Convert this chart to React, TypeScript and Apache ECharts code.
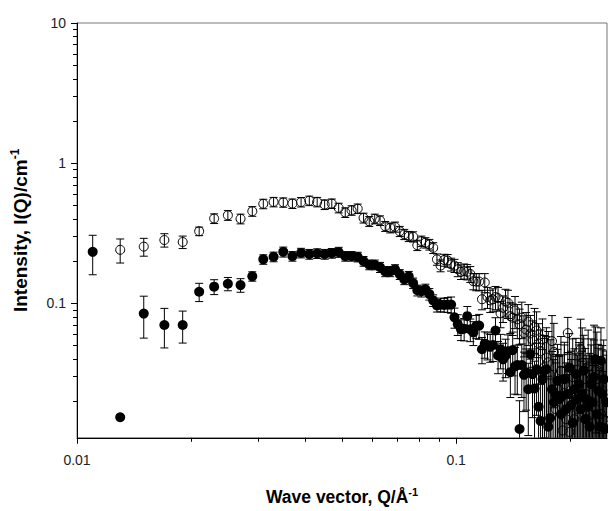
import React, { useEffect, useRef } from 'react';
import * as echarts from 'echarts';

// Wave vector Q (1/Å)
const qValues = [
  0.011, 0.013, 0.015, 0.017, 0.019, 0.021, 0.023, 0.025, 0.027, 0.029,
  0.031, 0.033, 0.035, 0.037, 0.039, 0.041, 0.043, 0.045, 0.047, 0.049,
  0.051, 0.053, 0.055, 0.057, 0.059, 0.061, 0.063, 0.065, 0.067, 0.069,
  0.071, 0.073, 0.075, 0.077, 0.079, 0.081, 0.083, 0.085, 0.087, 0.089,
  0.091, 0.093, 0.095, 0.097, 0.099, 0.101, 0.103, 0.105, 0.107, 0.109,
  0.111, 0.113, 0.115, 0.117, 0.119, 0.121, 0.123, 0.125, 0.127, 0.129,
  0.131, 0.133, 0.135, 0.137, 0.139, 0.141, 0.143, 0.145, 0.147, 0.149,
  0.151, 0.153, 0.155, 0.157, 0.159, 0.161, 0.163, 0.165, 0.167, 0.169,
  0.171, 0.173, 0.175, 0.177, 0.179, 0.181, 0.183, 0.185, 0.187, 0.189,
  0.191, 0.193, 0.195, 0.197, 0.199, 0.201, 0.203, 0.205, 0.207, 0.209,
  0.211, 0.213, 0.215, 0.217, 0.219, 0.221, 0.223, 0.225, 0.227, 0.229,
  0.231, 0.233, 0.235, 0.237, 0.239, 0.241, 0.243, 0.245, 0.247, 0.249,
];

// Open circles: intensity I(Q) (1/cm) and its error
const openIntensity = [
  null, 0.241, 0.254, 0.283, 0.274, 0.327, 0.403, 0.425, 0.401, 0.454,
  0.513, 0.529, 0.525, 0.515, 0.528, 0.540, 0.529, 0.507, 0.515, 0.480,
  0.445, 0.461, 0.474, 0.407, 0.385, 0.401, 0.390, 0.355, 0.346, 0.351,
  0.327, 0.311, 0.301, 0.299, 0.260, 0.278, 0.271, 0.263, 0.249, 0.206,
  0.186, 0.204, 0.202, 0.190, 0.186, 0.175, 0.168, 0.170, 0.168, 0.162,
  0.144, 0.143, 0.143, 0.107, 0.141, 0.111, 0.105, 0.107, 0.111, 0.109,
  0.085, 0.093, 0.103, 0.101, 0.081, 0.079, 0.089, 0.077, 0.071, 0.079,
  0.0615, 0.065, 0.074, 0.061, 0.055, 0.068, 0.064, 0.0516, 0.0456, 0.0554,
  0.035, 0.041, 0.038, 0.031, 0.0538, 0.045, 0.0176, 0.025, 0.0215, 0.033,
  0.0124, 0.0265, 0.0149, 0.0614, 0.0121, 0.0226, 0.0298, 0.0149, 0.0207, 0.0176,
  0.0265, 0.0471, 0.0378, 0.0288, 0.0226, 0.0149, 0.0355, 0.020, 0.0288, 0.014,
  0.0399, 0.0176, 0.0334, 0.025, 0.0127, 0.0162, 0.024, 0.0149, 0.0146, 0.0207,
];
const openError = [
  0, 0.047, 0.037, 0.031, 0.028, 0.023, 0.032, 0.034, 0.032, 0.036,
  0.040, 0.041, 0.040, 0.040, 0.041, 0.042, 0.041, 0.040, 0.040, 0.038,
  0.035, 0.036, 0.037, 0.033, 0.031, 0.032, 0.031, 0.029, 0.028, 0.029,
  0.027, 0.026, 0.025, 0.025, 0.022, 0.024, 0.023, 0.023, 0.022, 0.019,
  0.018, 0.020, 0.021, 0.020, 0.020, 0.020, 0.020, 0.021, 0.021, 0.021,
  0.019, 0.020, 0.020, 0.017, 0.022, 0.019, 0.019, 0.020, 0.021, 0.021,
  0.018, 0.020, 0.023, 0.023, 0.020, 0.020, 0.023, 0.021, 0.020, 0.023,
  0.020, 0.021, 0.024, 0.021, 0.020, 0.024, 0.023, 0.020, 0.019, 0.022,
  0.024, 0.026, 0.025, 0.024, 0.028, 0.027, 0.020, 0.022, 0.021, 0.025,
  0.018, 0.024, 0.020, 0.018, 0.019, 0.023, 0.026, 0.021, 0.023, 0.022,
  0.026, 0.030, 0.029, 0.027, 0.025, 0.022, 0.029, 0.024, 0.027, 0.022,
  0.030, 0.024, 0.029, 0.026, 0.022, 0.024, 0.026, 0.023, 0.023, 0.025,
];

// Filled circles: intensity I(Q) (1/cm) and its error
const filledIntensity = [
  0.233, 0.0154, 0.0845, 0.0701, 0.0701, 0.121, 0.1315, 0.138, 0.135, 0.156,
  0.206, 0.215, 0.233, 0.217, 0.229, 0.2245, 0.227, 0.2245, 0.228, 0.232,
  0.217, 0.217, 0.2145, 0.200, 0.1886, 0.1886, 0.181, 0.169, 0.169, 0.1746,
  0.161, 0.148, 0.156, 0.1395, 0.124, 0.122, 0.126, 0.1165, 0.105, 0.0967,
  0.098, 0.0975, 0.098, 0.098, 0.0795, 0.071, 0.0653, 0.066, 0.081, 0.0653,
  0.062, 0.069, 0.0694, 0.0471, 0.0516, 0.0505, 0.049, 0.0505, 0.064, 0.0425,
  0.0471, 0.0399, 0.0425, 0.0456, 0.0323, 0.0464, 0.0355, 0.0363, 0.0127, 0.0363,
  0.0309, 0.0323, 0.0244, 0.0434, 0.0313, 0.0247, 0.0339, 0.0183, 0.0145, 0.0288,
  0.0332, 0.0339, 0.0132, 0.0152, 0.0244, 0.0197, 0.0222, 0.028, 0.0207, 0.0162,
  0.022, 0.0288, 0.0176, 0.0226, 0.0348, 0.0188, 0.0141, 0.0244, 0.0313, 0.0207,
  0.0265, 0.0176, 0.0226, 0.0332, 0.0149, 0.0207, 0.0183, 0.0132, 0.0265, 0.0197,
  0.0298, 0.0399, 0.0162, 0.0238, 0.0132, 0.0389, 0.0226, 0.0288, 0.0127, 0.0197,
];
const filledError = [
  0.073, 0, 0.028, 0.022, 0.018, 0.018, 0.016, 0.015, 0.015, 0.012,
  0.016, 0.017, 0.019, 0.017, 0.018, 0.018, 0.018, 0.018, 0.018, 0.019,
  0.017, 0.017, 0.017, 0.016, 0.015, 0.015, 0.015, 0.014, 0.014, 0.014,
  0.013, 0.012, 0.013, 0.012, 0.011, 0.011, 0.011, 0.011, 0.010, 0.010,
  0.011, 0.011, 0.012, 0.013, 0.013, 0.012, 0.011, 0.012, 0.014, 0.012,
  0.012, 0.013, 0.014, 0.010, 0.011, 0.011, 0.011, 0.012, 0.015, 0.011,
  0.013, 0.012, 0.013, 0.014, 0.011, 0.016, 0.013, 0.014, 0.0075, 0.015,
  0.014, 0.015, 0.013, 0.020, 0.016, 0.014, 0.018, 0.013, 0.012, 0.018,
  0.023, 0.024, 0.017, 0.018, 0.021, 0.020, 0.021, 0.023, 0.021, 0.019,
  0.021, 0.024, 0.020, 0.022, 0.026, 0.021, 0.019, 0.023, 0.025, 0.022,
  0.024, 0.021, 0.023, 0.026, 0.020, 0.022, 0.022, 0.020, 0.024, 0.022,
  0.025, 0.028, 0.021, 0.024, 0.020, 0.028, 0.024, 0.026, 0.020, 0.023,
];

// Axis ranges and ticks (log scale)
const xRange = [0.01, 0.25];
const yRange = [0.011, 10];
const xMajorTicks = [0.01, 0.1];
const xMajorLabels = ['0.01', '0.1'];
const xMinorTicks = [0.02, 0.03, 0.04, 0.05, 0.06, 0.07, 0.08, 0.09, 0.2];
const yMajorTicks = [0.1, 1, 10];
const yMajorLabels = ['0.1', '1', '10'];
const yMinorTicks = [
  0.02, 0.03, 0.04, 0.05, 0.06, 0.07, 0.08, 0.09,
  0.2, 0.3, 0.4, 0.5, 0.6, 0.7, 0.8, 0.9,
  2, 3, 4, 5, 6, 7, 8, 9,
];

const FONT = '"Liberation Sans", Arial, Helvetica, sans-serif';
const lg = (v: number) => Math.log10(v);

function labelFormatter(ticks: number[], labels: string[]) {
  return (v: number) => {
    const i = ticks.findIndex((t) => Math.abs(lg(t) - v) < 1e-6);
    return i >= 0 ? labels[i] : '';
  };
}

function points(intens: (number | null)[]) {
  const out: number[][] = [];
  intens.forEach((v, i) => {
    if (v != null) out.push([lg(qValues[i]), lg(v)]);
  });
  return out;
}

function errorBars(intens: (number | null)[], errs: number[]) {
  const out: number[][] = [];
  intens.forEach((v, i) => {
    if (v == null || !errs[i]) return;
    const lo = v - errs[i];
    out.push([lg(qValues[i]), lo > 0 ? lg(lo) : -4, lg(v + errs[i])]);
  });
  return out;
}

const renderError = (params: any, api: any) => {
  const x = api.value(0);
  const top = api.coord([x, api.value(2)]);
  const bot = api.coord([x, api.value(1)]);
  const hw = 4;
  const style = { stroke: '#000', lineWidth: 1, fill: 'none' };
  return {
    type: 'group',
    children: [
      { type: 'line', shape: { x1: top[0], y1: top[1], x2: bot[0], y2: bot[1] }, style },
      { type: 'line', shape: { x1: top[0] - hw, y1: top[1], x2: top[0] + hw, y2: top[1] }, style },
      { type: 'line', shape: { x1: bot[0] - hw, y1: bot[1], x2: bot[0] + hw, y2: bot[1] }, style },
    ],
  };
};

function nameStyle(size: number) {
  return {
    fontFamily: FONT,
    color: '#000',
    rich: {
      t: { fontFamily: FONT, fontSize: size, fontWeight: 'bold', color: '#000', lineHeight: size + 3 },
      s: { fontFamily: FONT, fontSize: Math.round(size * 0.62), fontWeight: 'bold', color: '#000', verticalAlign: 'top', lineHeight: 12 },
    },
  };
}

export default function App() {
  const ref = useRef<HTMLDivElement>(null);
  useEffect(() => {
    if (!ref.current) return;
    const chart = echarts.init(ref.current, null, { renderer: 'svg' });
    const xMin = lg(xRange[0]);
    const xMax = lg(xRange[1]);
    const yMin = lg(yRange[0]);
    const yMax = lg(yRange[1]);
    chart.setOption({
      animation: false,
      grid: {
        left: 77, right: 1, top: 23, bottom: 72,
        show: true, borderColor: '#777', borderWidth: 1, backgroundColor: 'transparent',
      },
      xAxis: [
        {
          type: 'value', min: xMin, max: xMax, position: 'bottom',
          axisLine: { show: true, onZero: false, lineStyle: { color: '#000', width: 1 } },
          axisTick: { show: true, inside: false, length: 6, customValues: xMajorTicks.map(lg), lineStyle: { color: '#000' } },
          axisLabel: {
            show: true, customValues: xMajorTicks.map(lg), formatter: labelFormatter(xMajorTicks, xMajorLabels),
            margin: 15, fontSize: 14, fontFamily: FONT, color: '#222',
          },
          splitLine: { show: false },
          name: '{t|Wave vector, Q/Å}{s|-1}', nameLocation: 'middle', nameGap: 49,
          nameTextStyle: nameStyle(17.5),
        },
        {
          type: 'value', min: xMin, max: xMax, position: 'bottom',
          axisLine: { show: false, onZero: false },
          axisTick: { show: true, inside: false, length: 4, customValues: xMinorTicks.map(lg), lineStyle: { color: '#000' } },
          axisLabel: { show: false },
          splitLine: { show: false },
        },
      ],
      yAxis: [
        {
          type: 'value', min: yMin, max: yMax, position: 'left',
          axisLine: { show: true, onZero: false, lineStyle: { color: '#000', width: 1 } },
          axisTick: { show: true, inside: false, length: 6, customValues: yMajorTicks.map(lg), lineStyle: { color: '#000' } },
          axisLabel: {
            show: true, customValues: yMajorTicks.map(lg), formatter: labelFormatter(yMajorTicks, yMajorLabels),
            margin: 11, fontSize: 14, fontFamily: FONT, color: '#222',
          },
          splitLine: { show: false },
          name: '{t|Intensity, I(Q)/cm}{s|-1}', nameLocation: 'middle', nameGap: 46,
          nameTextStyle: nameStyle(19),
        },
        {
          type: 'value', min: yMin, max: yMax, position: 'left',
          axisLine: { show: false, onZero: false },
          axisTick: { show: true, inside: false, length: 4, customValues: yMinorTicks.map(lg), lineStyle: { color: '#000' } },
          axisLabel: { show: false },
          splitLine: { show: false },
        },
      ],
      series: [
        {
          type: 'custom', name: 'openErr', xAxisIndex: 0, yAxisIndex: 0, clip: true, silent: true,
          renderItem: renderError, data: errorBars(openIntensity, openError),
          encode: { x: 0, y: [1, 2] },
        },
        {
          type: 'scatter', name: 'open', xAxisIndex: 0, yAxisIndex: 0, silent: true,
          symbol: 'circle', symbolSize: 9,
          itemStyle: { color: 'rgba(255,255,255,0)', borderColor: '#000', borderWidth: 1, opacity: 1 },
          data: points(openIntensity),
        },
        {
          type: 'custom', name: 'filledErr', xAxisIndex: 0, yAxisIndex: 0, clip: true, silent: true,
          renderItem: renderError, data: errorBars(filledIntensity, filledError),
          encode: { x: 0, y: [1, 2] },
        },
        {
          type: 'scatter', name: 'filled', xAxisIndex: 0, yAxisIndex: 0, silent: true,
          symbol: 'circle', symbolSize: 10,
          itemStyle: { color: '#000', opacity: 1 },
          data: points(filledIntensity),
        },
      ],
    });
    return () => chart.dispose();
  }, []);
  return (
    <div
      ref={ref}
      style={{ position: 'fixed', left: 0, top: 0, width: 608, height: 511, background: '#fff' }}
    />
  );
}
